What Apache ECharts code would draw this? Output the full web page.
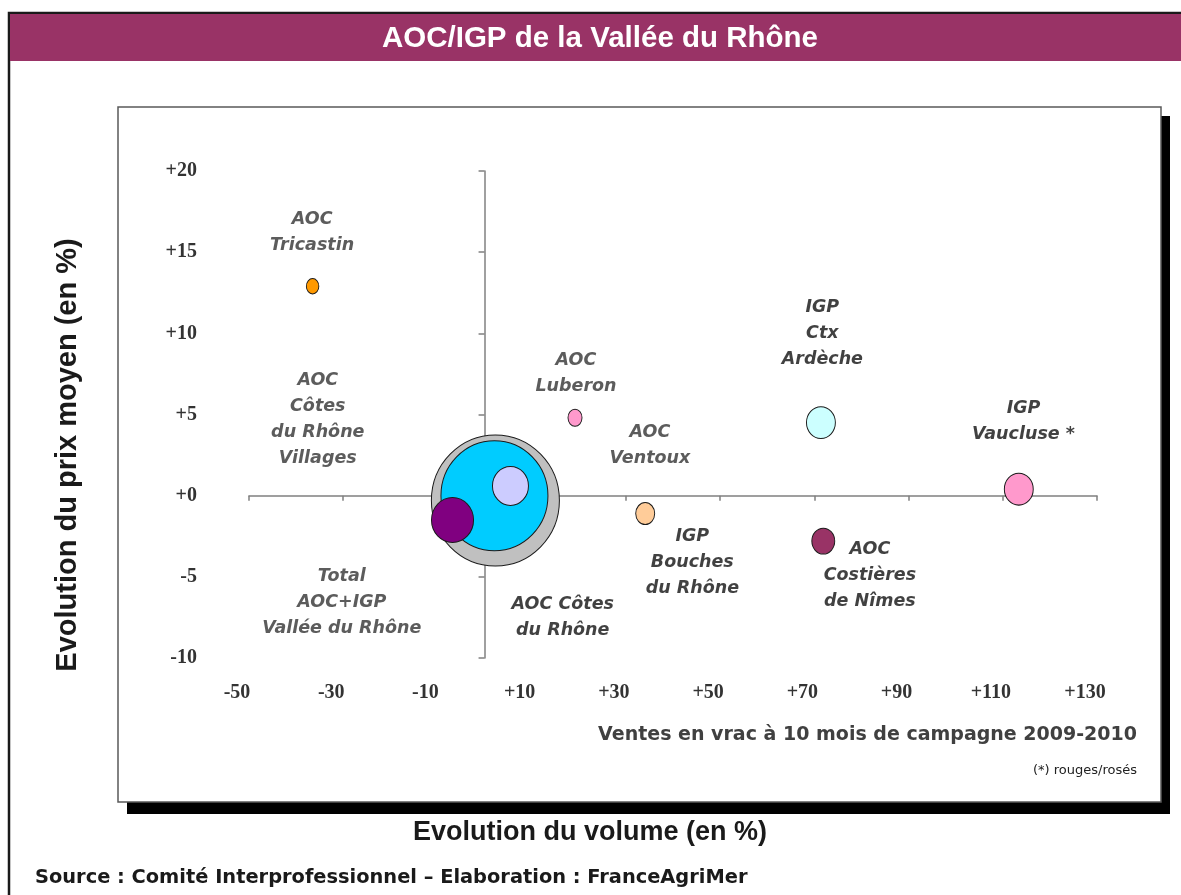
<!DOCTYPE html>
<html><head><meta charset="utf-8">
<script src="https://cdn.jsdelivr.net/npm/echarts@6/dist/echarts.min.js"></script>
<style>html,body{margin:0;padding:0;background:#fff}#c{width:1181px;height:895px}</style>
</head><body><div id="c"></div>
<script>
// ---- data ----
const names = ['Total AOC+IGP Vallée du Rhône','AOC Côtes du Rhône','AOC Ventoux','AOC Côtes du Rhône Villages','AOC Tricastin','AOC Luberon','IGP Bouches du Rhône','IGP Ctx Ardèche','IGP Vaucluse *','AOC Costières de Nîmes'];
const volumeChange = [2.3, 2.1, 5.5, -6.8, -36.5, 19.2, 34.1, 71.4, 113.4, 71.9];
const priceChange  = [-0.3, 0.0, 0.6, -1.5, 12.9, 4.8, -1.1, 4.5, 0.4, -2.8];
const bubbleVolume = [100, 69.9, 7.9, 10.8, 0.95, 1.2, 2.2, 5.1, 5.1, 3.2];
const labelText = ['Total\nAOC+IGP\nVallée du Rhône','AOC Côtes\ndu Rhône','AOC\nVentoux','AOC\nCôtes\ndu Rhône\nVillages','AOC\nTricastin','AOC\nLuberon','IGP\nBouches\ndu Rhône','IGP\nCtx\nArdèche','IGP\nVaucluse *','AOC\nCostières\nde Nîmes'];
const labelX = [-30.3, 16.6, 35.1, -35.4, -36.6, 19.4, 44.1, 71.7, 114.4, 81.8];
const labelY = [-6.6, -7.5, 3.1, 4.7, 16.2, 7.5, -4.1, 10.0, 4.6, -4.9];
const xMin = -50, xMax = 130, xStep = 20;
const yMin = -10, yMax = 20, yStep = 5;

// ---- styles ----
const colors = ['#C0C0C0','#00CCFF','#CCCCFF','#800080','#FF9900','#FF99CC','#FFCC99','#CCFFFF','#FF99CC','#993366'];
const labelColors = ['#333','#111','#333','#333','#333','#333','#111','#111','#111','#111'];
const signFmt = v => v >= 0 ? '+' + v : String(v);

const chart = echarts.init(document.getElementById('c'), null, {renderer:'canvas'});
const axisLineStyle = {color:'#808080', width:1.5};
const tickFont = {fontFamily:'Liberation Serif', fontWeight:'bold', fontSize:20, color:'#333'};

chart.setOption({
  animation:false,
  grid:{left:249, right:84, top:171, bottom:237, containLabel:false},
  xAxis:[
    {type:'value', min:xMin, max:xMax, interval:xStep, position:'bottom',
     axisLine:{show:false, onZero:false}, axisTick:{show:false}, splitLine:{show:false},
     axisLabel:Object.assign({margin:25, formatter:signFmt, padding:[0,24,0,0]}, tickFont)},
    {type:'value', min:xMin, max:xMax, interval:xStep, position:'bottom',
     axisLine:{show:true, onZero:true, onZeroAxisIndex:0, lineStyle:axisLineStyle},
     axisTick:{show:true, length:5, lineStyle:axisLineStyle}, axisLabel:{show:false}, splitLine:{show:false}}
  ],
  yAxis:[
    {type:'value', min:yMin, max:yMax, interval:yStep, position:'left',
     axisLine:{show:false, onZero:false}, axisTick:{show:false}, splitLine:{show:false},
     axisLabel:Object.assign({margin:52, formatter:signFmt}, tickFont)},
    {type:'value', min:yMin, max:yMax, interval:yStep, position:'left',
     axisLine:{show:true, onZero:true, onZeroAxisIndex:0, lineStyle:axisLineStyle},
     axisTick:{show:true, length:6, lineStyle:axisLineStyle}, axisLabel:{show:false}, splitLine:{show:false}}
  ],
  series:[
    {type:'scatter', xAxisIndex:0, yAxisIndex:0, z:3,
     data:names.map((n,i)=>({name:n, value:[volumeChange[i], priceChange[i], bubbleVolume[i]],
       itemStyle:{color:colors[i], borderColor:'#1a1a1a', borderWidth:1, opacity:1}})),
     symbolSize:function(val){const d = 128*Math.sqrt(val[2]/100); return [d, d+3];},
     emphasis:{disabled:true}},
    {type:'scatter', xAxisIndex:0, yAxisIndex:0, z:4, silent:true, symbolSize:1,
     itemStyle:{color:'transparent', borderWidth:0},
     data:labelText.map((t,i)=>({name:t, value:[labelX[i], labelY[i]],
       label:{show:true, position:'inside', formatter:t, color:labelColors[i],
         fontFamily:'DejaVu Sans', fontStyle:'italic', fontWeight:'bold', fontSize:17.5, lineHeight:26, align:'center'}})),
     emphasis:{disabled:true}}
  ],
  graphic:[
    {type:'rect', z:-20, shape:{x:9, y:13, width:1200, height:900}, style:{fill:'#fff', stroke:'#1a1a1a', lineWidth:2.5}},
    {type:'rect', z:-19, shape:{x:10, y:14, width:1190, height:47}, style:{fill:'#993366'}},
    {type:'text', z:50, x:600, y:39, style:{text:'AOC/IGP de la Vallée du Rhône', fill:'#fff', font:'bold 29.5px "Liberation Sans"', textAlign:'center', textVerticalAlign:'middle'}},
    {type:'rect', z:-18, shape:{x:127, y:116, width:1043, height:698}, style:{fill:'#000'}},
    {type:'rect', z:-17, shape:{x:118, y:107, width:1043, height:695}, style:{fill:'#fff', stroke:'#5a5a5a', lineWidth:1.5}},
    {type:'text', z:50, x:1137, y:735, style:{text:'Ventes en vrac à 10 mois de campagne 2009-2010', fill:'#404040', font:'bold 19px "DejaVu Sans"', textAlign:'right', textVerticalAlign:'middle'}},
    {type:'text', z:50, x:1137, y:771, style:{text:'(*) rouges/rosés', fill:'#222', font:'13px "DejaVu Sans"', textAlign:'right', textVerticalAlign:'middle'}},
    {type:'text', z:50, x:590, y:833, style:{text:'Evolution du volume (en %)', fill:'#1a1a1a', font:'bold 27px "Liberation Sans"', textAlign:'center', textVerticalAlign:'middle'}},
    {type:'text', z:50, x:68, y:455, rotation:Math.PI/2, style:{text:'Evolution du prix moyen (en %)', fill:'#1a1a1a', font:'bold 29px "Liberation Sans"', textAlign:'center', textVerticalAlign:'middle'}},
    {type:'text', z:50, x:35, y:878, style:{text:'Source : Comité Interprofessionnel – Elaboration : FranceAgriMer', fill:'#1a1a1a', font:'bold 19.4px "DejaVu Sans"', textAlign:'left', textVerticalAlign:'middle'}}
  ]
});
</script></body></html>
